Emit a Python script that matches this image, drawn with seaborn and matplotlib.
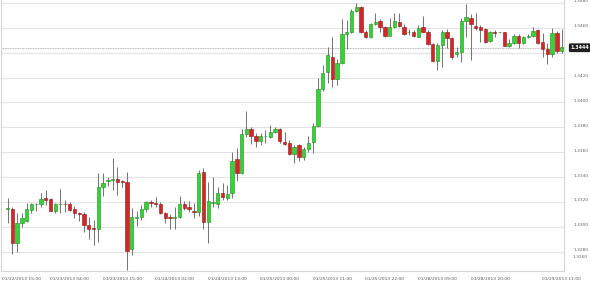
import numpy as np
import pandas as pd
import matplotlib
matplotlib.use("Agg")
import matplotlib.pyplot as plt
import matplotlib.transforms as mtransforms
import seaborn as sns

# ---- data (hourly OHLC) ----
opens = [1.33139, 1.33140, 1.32866, 1.33027, 1.33048, 1.33134, 1.33179, 1.33180, 1.33229, 1.33221,
         1.33129, 1.33179, 1.33183, 1.33183, 1.33140, 1.33113, 1.33100, 1.33011, 1.32990, 1.32979,
         1.33317, 1.33368, 1.33376, 1.33382, 1.33362, 1.33362, 1.32818, 1.33074, 1.33076, 1.33140,
         1.33199, 1.33188, 1.33180, 1.33108, 1.33074, 1.33074, 1.33076, 1.33180, 1.33161, 1.33129,
         1.33121, 1.33443, 1.33036, 1.33193, 1.33180, 1.33274, 1.33229, 1.33269, 1.33543, 1.33430,
         1.33744, 1.33784, 1.33730, 1.33692, 1.33727, 1.33724, 1.33762, 1.33788, 1.33684, 1.33676,
         1.33582, 1.33657, 1.33563, 1.33623, 1.33684, 1.33810, 1.34106, 1.34247, 1.34363, 1.34186,
         1.34315, 1.34548, 1.34565, 1.34738, 1.34771, 1.34565, 1.34524, 1.34629, 1.34658, 1.34610,
         1.34537, 1.34610, 1.34650, 1.34610, 1.34563, 1.34565, 1.34529, 1.34610, 1.34569, 1.34468,
         1.34333, 1.34462, 1.34565, 1.34516, 1.34387, 1.34403, 1.34658, 1.34677, 1.34618, 1.34605,
         1.34589, 1.34497, 1.34565, 1.34563, 1.34565, 1.34457, 1.34476, 1.34537, 1.34476, 1.34524,
         1.34537, 1.34583, 1.34489, 1.34428, 1.34387, 1.34556, 1.34416]
highs = [1.33231, 1.33161, 1.33110, 1.33110, 1.33188, 1.33193, 1.33191, 1.33274, 1.33296, 1.33229,
         1.33188, 1.33301, 1.33215, 1.33201, 1.33167, 1.33118, 1.33121, 1.33076, 1.33054, 1.33430,
         1.33435, 1.33398, 1.33551, 1.33478, 1.33376, 1.33443, 1.33148, 1.33129, 1.33175, 1.33207,
         1.33215, 1.33237, 1.33201, 1.33121, 1.33102, 1.33161, 1.33247, 1.33207, 1.33209, 1.33193,
         1.33457, 1.33470, 1.33362, 1.33398, 1.33322, 1.33349, 1.33336, 1.33604, 1.33631, 1.33784,
         1.33934, 1.33800, 1.33751, 1.33756, 1.33778, 1.33818, 1.33800, 1.33797, 1.33762, 1.33698,
         1.33657, 1.33663, 1.33644, 1.33730, 1.33837, 1.34194, 1.34301, 1.34449, 1.34529, 1.34347,
         1.34669, 1.34664, 1.34750, 1.34798, 1.34776, 1.34583, 1.34642, 1.34722, 1.34669, 1.34615,
         1.34677, 1.34722, 1.34717, 1.34631, 1.34589, 1.34583, 1.34623, 1.34696, 1.34583, 1.34481,
         1.34476, 1.34583, 1.34589, 1.34524, 1.34449, 1.34677, 1.34792, 1.34712, 1.34717, 1.34623,
         1.34597, 1.34577, 1.34583, 1.34569, 1.34569, 1.34508, 1.34548, 1.34548, 1.34535, 1.34548,
         1.34605, 1.34589, 1.34556, 1.34476, 1.34597, 1.34577, 1.34589]
lows = [1.33032, 1.32780, 1.32799, 1.32995, 1.33040, 1.33113, 1.33129, 1.33161, 1.33175, 1.33127,
        1.33108, 1.33108, 1.33121, 1.33127, 1.33068, 1.33046, 1.32960, 1.32899, 1.32850, 1.32879,
        1.33247, 1.33328, 1.33296, 1.33255, 1.33322, 1.32652, 1.32772, 1.33006, 1.33054, 1.33121,
        1.33161, 1.33156, 1.33102, 1.33032, 1.32979, 1.32979, 1.33068, 1.33134, 1.33121, 1.33073,
        1.33086, 1.32979, 1.32866, 1.33161, 1.33148, 1.33215, 1.33215, 1.33229, 1.33370, 1.33424,
        1.33719, 1.33665, 1.33644, 1.33657, 1.33676, 1.33711, 1.33751, 1.33676, 1.33657, 1.33574,
        1.33510, 1.33531, 1.33537, 1.33603, 1.33595, 1.33805, 1.34094, 1.34159, 1.34127, 1.34140,
        1.34309, 1.34428, 1.34556, 1.34730, 1.34556, 1.34521, 1.34521, 1.34623, 1.34569, 1.34529,
        1.34531, 1.34597, 1.34610, 1.34543, 1.34543, 1.34529, 1.34524, 1.34565, 1.34462, 1.34328,
        1.34261, 1.34288, 1.34436, 1.34347, 1.34368, 1.34328, 1.34529, 1.34341, 1.34583, 1.34489,
        1.34476, 1.34489, 1.34529, 1.34556, 1.34454, 1.34449, 1.34470, 1.34441, 1.34470, 1.34516,
        1.34529, 1.34470, 1.34368, 1.34309, 1.34363, 1.34395, 1.34395]
closes = [1.33147, 1.32871, 1.33032, 1.33068, 1.33140, 1.33183, 1.33183, 1.33221, 1.33215, 1.33129,
          1.33183, 1.33183, 1.33180, 1.33134, 1.33108, 1.33102, 1.33011, 1.32984, 1.32979, 1.33317,
          1.33349, 1.33370, 1.33382, 1.33360, 1.33361, 1.32804, 1.33076, 1.33076, 1.33140, 1.33199,
          1.33188, 1.33180, 1.33108, 1.33068, 1.33073, 1.33078, 1.33180, 1.33153, 1.33140, 1.33118,
          1.33430, 1.33036, 1.33209, 1.33195, 1.33274, 1.33242, 1.33261, 1.33531, 1.33430, 1.33744,
          1.33784, 1.33730, 1.33692, 1.33730, 1.33730, 1.33762, 1.33788, 1.33687, 1.33663, 1.33582,
          1.33639, 1.33563, 1.33625, 1.33676, 1.33810, 1.34106, 1.34234, 1.34382, 1.34186, 1.34315,
          1.34548, 1.34565, 1.34738, 1.34771, 1.34565, 1.34524, 1.34631, 1.34645, 1.34610, 1.34537,
          1.34610, 1.34658, 1.34615, 1.34551, 1.34565, 1.34537, 1.34599, 1.34569, 1.34468, 1.34333,
          1.34462, 1.34569, 1.34516, 1.34368, 1.34408, 1.34658, 1.34690, 1.34629, 1.34599, 1.34585,
          1.34489, 1.34565, 1.34556, 1.34565, 1.34457, 1.34481, 1.34537, 1.34476, 1.34524, 1.34537,
          1.34577, 1.34476, 1.34428, 1.34387, 1.34556, 1.34416, 1.34444]

tick_index = [0, 13, 24, 35, 46, 57, 68, 79, 90, 101, 116]
tick_labels = ["01/22/2013 15:00", "01/23/2013 04:00", "01/23/2013 15:00", "01/24/2013 02:00",
               "01/24/2013 13:00", "01/25/2013 00:00", "01/25/2013 11:00", "01/25/2013 22:00",
               "01/28/2013 09:00", "01/28/2013 20:00", "01/29/2013 11:00"]
price_ticks = [1.3280, 1.3300, 1.3320, 1.3340, 1.3360, 1.3380, 1.3400, 1.3420, 1.3440, 1.3460, 1.3480]
bottom_label = "1.3260"
last_price = 1.3444

# ---- style ----
sns.set_theme(style="white")
plt.rcParams['font.family'] = ['DejaVu Sans']

df = pd.DataFrame({"open": opens, "high": highs, "low": lows, "close": closes})
df["idx"] = np.arange(len(df))
up = df["close"] >= df["open"]
body_low = np.minimum(df["open"], df["close"])
body_h = np.maximum(np.abs(df["close"] - df["open"]), 0.00005)

fig = plt.figure(figsize=(5.9, 2.85), dpi=100)
fig.patch.set_facecolor("white")
ax = fig.add_axes([1 / 590, 14 / 285, 563 / 590, 271 / 285])
ax.set_facecolor("white")

# wicks
ax.vlines(df["idx"], df["low"], df["high"], color="#777777", linewidth=0.75, zorder=2)
# bodies
face = np.where(up, "#33d433", "#d42626")
edge = np.where(up, "#1e8e1e", "#8e1616")
ax.bar(df["idx"], body_h, bottom=body_low, width=0.7, color=face, edgecolor=edge,
       linewidth=0.4, zorder=3)

# current price dotted line
ax.axhline(last_price, color="#9a9a9a", linestyle=(0, (1, 1)), linewidth=0.6, zorder=1)

ax.set_xlim(-1.38, 116.5)
ax.set_ylim(1.32644, 1.34824)

# grid
ax.set_yticks(price_ticks)
ax.yaxis.grid(True, color="#e3e3e3", linewidth=0.8, zorder=0)
ax.xaxis.grid(False)
ax.set_axisbelow(True)

# y axis on the right
ax.yaxis.tick_right()
ax.set_yticklabels([f"{v:.4f}" for v in price_ticks])
ax.tick_params(axis="y", length=0, labelsize=3.2, labelcolor="#666666", pad=6.5)
for lab in ax.get_yticklabels():
    lab.set_horizontalalignment("left")
    lab.set_transform(lab.get_transform() +
                      mtransforms.ScaledTranslation(0, 2 / 100, fig.dpi_scale_trans))

# x axis
ax.set_xticks(tick_index)
ax.set_xticklabels(tick_labels)
ax.tick_params(axis="x", length=0, labelsize=3.2, labelcolor="#555555", pad=4.5)
xl = ax.get_xticklabels()
xl[0].set_horizontalalignment("left")
xl[0].set_transform(xl[0].get_transform() +
                    mtransforms.ScaledTranslation(-6 / 100, 0, fig.dpi_scale_trans))

for s in ["left", "right", "bottom"]:
    ax.spines[s].set_color("#d6d6d6")
    ax.spines[s].set_linewidth(0.8)
ax.spines["top"].set_visible(False)

# bottom-most price label
ax.text(1.016, 0.052, bottom_label, transform=ax.transAxes, ha="left", va="center",
        fontsize=3.2, color="#666666", clip_on=False)

# current price tag
blend = mtransforms.blended_transform_factory(ax.transAxes, ax.transData)
ax.text(1.012, last_price, f"{last_price:.4f}", transform=blend, ha="left", va="center",
        fontsize=3.4, color="white", fontweight="bold", clip_on=False, zorder=10,
        bbox=dict(boxstyle="round,pad=0.4,rounding_size=0.3", fc="#1f1f1f", ec="none"))

fig.savefig("out.png", dpi=100, facecolor="white")
